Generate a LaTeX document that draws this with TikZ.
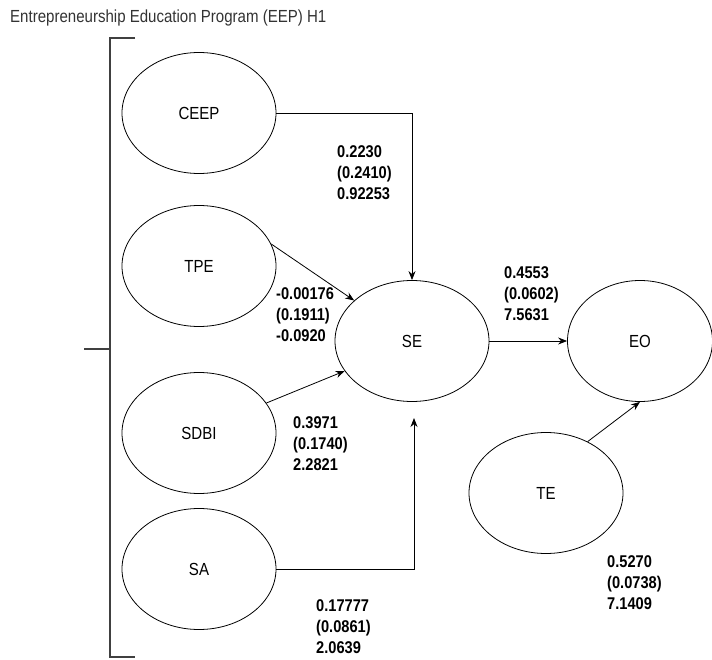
\documentclass[tikz,border=0pt]{standalone}
\usepackage{fontspec}
\setmainfont{Liberation Sans}[FakeStretch=0.86]
\usepackage{tikz}
\usetikzlibrary{arrows.meta,shapes.geometric}

\newcommand{\estfont}{\fontsize{17}{21}\selectfont\bfseries}
\newcommand{\varfont}{\fontsize{17.5}{20}\selectfont}

\begin{document}
\begin{tikzpicture}[x=1pt,y=-1pt,>={Stealth[length=9pt,width=7pt]},
  var/.style={draw,ellipse,minimum width=154pt,minimum height=121pt,inner sep=0pt,line width=0.8pt,font=\varfont},
  est/.style={anchor=north west,align=left,inner sep=0pt,font=\estfont},
  link/.style={->,line width=0.8pt},
  brace/.style={line width=2pt,black!75}]
  \useasboundingbox (0,0) rectangle (712,660);
  \node[anchor=base west,inner sep=0pt,font=\varfont,text=black!80] (title) at (10,23) {Entrepreneurship Education Program (EEP) H1};

  % bracket round the EEP dimensions
  \draw[brace] (135,38) -- (110,38) -- (110,657) -- (135,657);
  \draw[brace] (84,349) -- (110,349);

  \node[var] (ceep) at (199,113) {CEEP};
  \node[var] (tpe) at (199,266) {TPE};
  \node[var] (sdbi) at (199,433) {SDBI};
  \node[var] (sa) at (199,569) {SA};
  \node[var] (se) at (412,341) {SE};
  \node[var,minimum width=145pt] (eo) at (640,341) {EO};
  \node[var] (te) at (546,493) {TE};
  \coordinate (sa-in) at (414,418);

  \draw[link] (ceep.east) -| (se.north);
  \draw[link] (tpe.17) -- (se.145);
  \draw[link] (sdbi.24) -- (se.204);
  \draw[link] (sa.east) -| (sa-in);
  \draw[link] (se.east) -- (eo.west);
  \draw[link] (te.51) -- (eo.south);

  \node[est] (e-ceep) at (337,145) {0.2230\\(0.2410)\\0.92253};
  \node[est] (e-tpe) at (276,287) {-0.00176\\(0.1911)\\-0.0920};
  \node[est] (e-sdbi) at (293,416) {0.3971\\(0.1740)\\2.2821};
  \node[est] (e-sa) at (316,599) {0.17777\\(0.0861)\\2.0639};
  \node[est] (e-se) at (504,266) {0.4553\\(0.0602)\\7.5631};
  \node[est] (e-te) at (607,555) {0.5270\\(0.0738)\\7.1409};
\end{tikzpicture}
\end{document}
